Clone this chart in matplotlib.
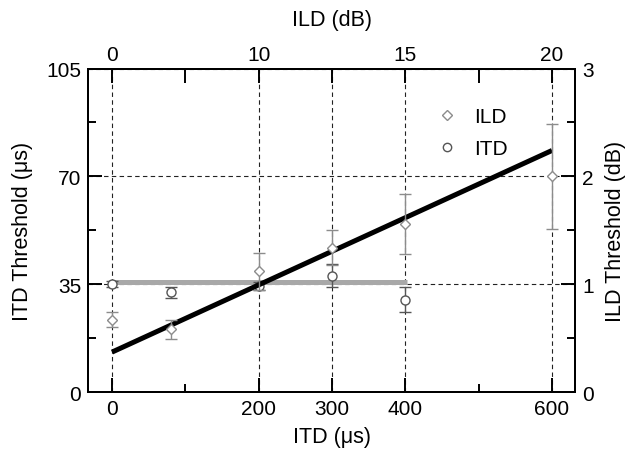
import matplotlib
matplotlib.use("Agg")
import matplotlib.pyplot as plt
from matplotlib.lines import Line2D
from matplotlib.ticker import FixedLocator

plt.rcParams['font.family'] = ['Liberation Sans', 'DejaVu Sans']

# Data
itd_x = [0, 80, 200, 300, 400]              # ITD (us)
itd_thr = [35.1, 32.4, 34.5, 37.8, 30.0]    # ITD threshold (us)
itd_err = [1.0, 1.8, 1.3, 3.6, 4.0]

ild_x = [0, 80, 200, 300, 400, 600]         # plotted at ITD positions
ild_thr = [0.67, 0.58, 1.12, 1.34, 1.56, 2.00]  # ILD threshold (dB)
ild_err = [0.07, 0.09, 0.17, 0.16, 0.28, 0.49]

fit_x = [0, 600]
fit_ild = [0.37, 2.24]          # black regression line (dB)
mean_x = [0, 402]
mean_itd = [35.6, 35.6]         # gray mean ITD line (us)

bottom_ticks = [0, 200, 300, 400, 600]
bottom_minor = [100, 500]
top_ticks = [0, 100, 200, 300, 400, 500, 600]
top_labels = ['0', '', '10', '', '15', '', '20']

FS_TICK = 15
FS_LAB = 15.5

fig = plt.figure(figsize=(6.29, 4.52), dpi=100)
ax = fig.add_axes([0.1399, 0.1305, 0.7743, 0.7157])
ax.set_xlim(-32.7, 631.4)
ax.set_ylim(0, 105)

ax2 = ax.twinx()
ax2.set_ylim(0, 3)

axt = ax.twiny()
axt.set_xlim(ax.get_xlim())

grid_kw = dict(color='#222222', lw=0.8, ls=(0, (4, 3)))
ax.grid(True, which='major', **grid_kw)

# Lines
ax.plot(mean_x, mean_itd, color='#a8a8a8', lw=3.6, solid_capstyle='butt', zorder=2)
ax2.plot(fit_x, fit_ild, color='black', lw=3.6, solid_capstyle='butt', zorder=2)

# ITD circles
ax.errorbar(itd_x, itd_thr, yerr=itd_err, fmt='o', ms=6.5, mfc='white',
            mec='#555555', mew=1.0, ecolor='#555555', elinewidth=1.0,
            capsize=4, capthick=1.0, zorder=3)
# ILD diamonds
ax2.errorbar(ild_x, ild_thr, yerr=ild_err, fmt='D', ms=5.5, mfc='white',
             mec='#8c8c8c', mew=1.0, ecolor='#8c8c8c', elinewidth=1.0,
             capsize=4, capthick=1.0, zorder=3)

# Ticks
ax.set_xticks(bottom_ticks)
ax.xaxis.set_minor_locator(FixedLocator(bottom_minor))
ax.set_yticks([0, 35, 70, 105])
ax.yaxis.set_minor_locator(FixedLocator([17.5, 52.5, 87.5]))
ax2.set_yticks([0, 1, 2, 3])
ax2.yaxis.set_minor_locator(FixedLocator([0.5, 1.5, 2.5]))
axt.set_xticks(top_ticks)
axt.set_xticklabels(top_labels)

for a in (ax, ax2, axt):
    a.tick_params(which='major', direction='in', length=10, width=1.4,
                  labelsize=FS_TICK, color='black', pad=5)
    a.tick_params(which='minor', direction='in', length=6, width=1.4)
    for s in a.spines.values():
        s.set_linewidth(1.4)
ax.tick_params(axis='y', which='both', right=False)
ax.tick_params(axis='x', which='both', top=False)
axt.tick_params(axis='x', pad=3)

ax.set_xlabel('ITD (\u03bcs)', fontsize=FS_LAB, labelpad=6)
ax.set_ylabel('ITD Threshold (\u03bcs)', fontsize=FS_LAB, labelpad=9.5)
ax2.set_ylabel('ILD Threshold (dB)', fontsize=FS_LAB, labelpad=8)
axt.set_xlabel('ILD (dB)', fontsize=FS_LAB, labelpad=15)

handles = [
    Line2D([], [], ls='none', marker='D', ms=5, mfc='white', mec='#8c8c8c', mew=1.0),
    Line2D([], [], ls='none', marker='o', ms=6, mfc='white', mec='#555555', mew=1.0),
]
leg = ax2.legend(handles, ['ILD', 'ITD'], loc='upper left',
                 bbox_to_anchor=(428 / 629, 1 - 100 / 452),
                 bbox_transform=fig.transFigure, frameon=False,
                 fontsize=FS_TICK, handlelength=1.0, handletextpad=0.8,
                 labelspacing=0.62, borderaxespad=0)

fig.savefig('out.png', dpi=100)
